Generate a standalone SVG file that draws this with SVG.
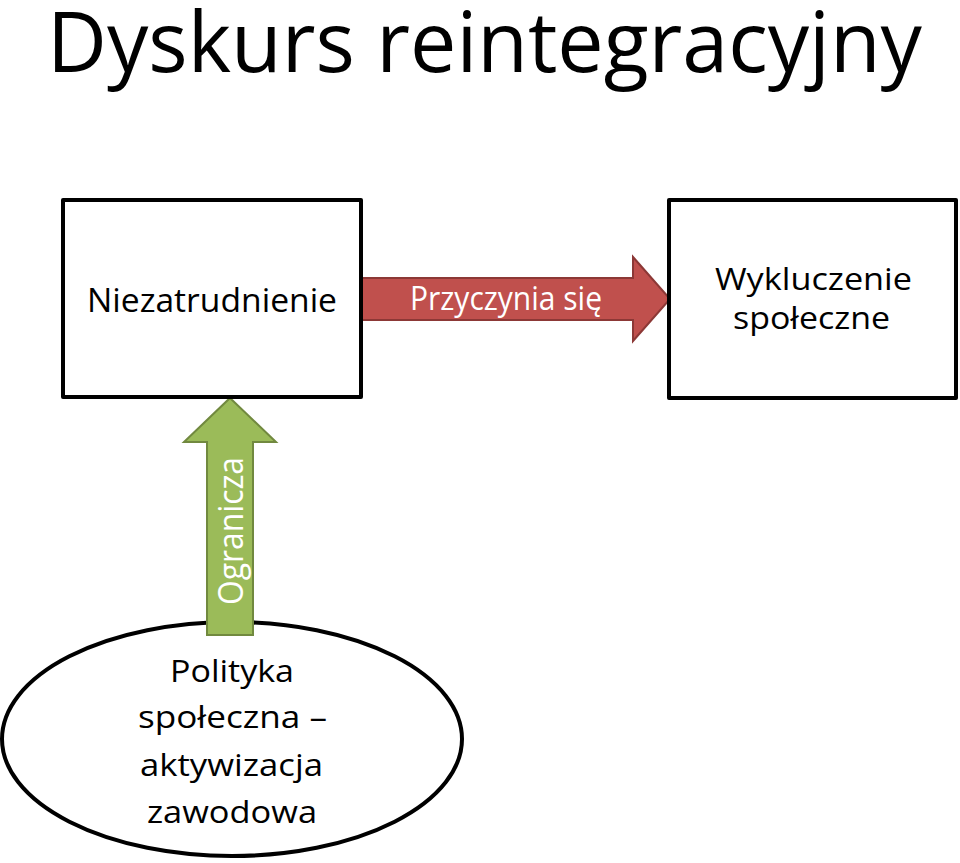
<svg xmlns="http://www.w3.org/2000/svg" width="960" height="863" viewBox="0 0 960 863">
<style>
.t{font-family:"Open Sans","Noto Sans","Liberation Sans",sans-serif;fill:#000}
.box{fill:#fff;stroke:#000;stroke-width:4;stroke-linejoin:round}
.red{fill:#C0504D;stroke:#8C3836;stroke-width:2}
.green{fill:#9BBB59;stroke:#71893F;stroke-width:2}
.w{fill:#fff}
</style>
<rect width="960" height="863" fill="#fff"/>
<text class="t" x="47" y="72" font-size="84" textLength="875" lengthAdjust="spacingAndGlyphs">Dyskurs reintegracyjny</text>
<g id="ellipse-polityka">
<ellipse class="box" cx="232" cy="739" rx="230" ry="117"/>
<text class="t" font-size="31" x="170" y="682" textLength="124" lengthAdjust="spacingAndGlyphs">Polityka</text>
<text class="t" font-size="31" x="138" y="728" textLength="189" lengthAdjust="spacingAndGlyphs">społeczna –</text>
<text class="t" font-size="31" x="140" y="776" textLength="183" lengthAdjust="spacingAndGlyphs">aktywizacja</text>
<text class="t" font-size="31" x="147" y="823" textLength="170" lengthAdjust="spacingAndGlyphs">zawodowa</text>
</g>
<g id="connectors">
<g id="arrow-przyczynia">
<polygon class="red" points="360,278 633,278 633,257 670,299 633,341 633,320 360,320"/>
<text class="t w" font-size="32" x="410" y="310" textLength="192" lengthAdjust="spacingAndGlyphs">Przyczynia się</text>
</g>
<g id="arrow-ogranicza">
<polygon class="green" points="230,398 276,442 253,442 253,635 207,635 207,442 184,442"/>
<text class="t w" font-size="34" transform="translate(243,605) rotate(-90)" x="0" y="0" textLength="148" lengthAdjust="spacingAndGlyphs">Ogranicza</text>
</g>
</g>
<g id="box-niezatrudnienie">
<rect class="box" x="63" y="200" width="298" height="197" style="fill:none"/>
<text class="t" font-size="33" x="87" y="312" textLength="250" lengthAdjust="spacingAndGlyphs">Niezatrudnienie</text>
</g>
<g id="box-wykluczenie">
<rect class="box" x="669" y="200" width="287" height="198"/>
<text class="t" font-size="31" x="715" y="290" textLength="197" lengthAdjust="spacingAndGlyphs">Wykluczenie</text>
<text class="t" font-size="31" x="733" y="329" textLength="157" lengthAdjust="spacingAndGlyphs">społeczne</text>
</g>
</svg>
